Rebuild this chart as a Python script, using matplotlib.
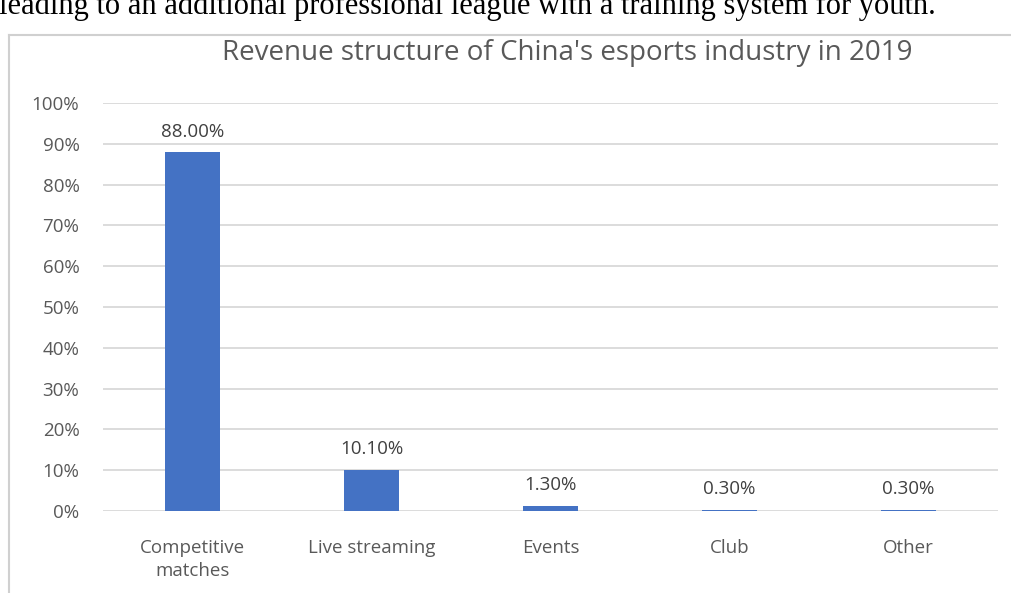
import numpy as np
import matplotlib.pyplot as plt
from matplotlib.lines import Line2D

# revenue share by segment
categories = ["Competitive\nmatches", "Live streaming", "Events", "Club", "Other"]
shares = [88.0, 10.1, 1.3, 0.3, 0.3]
yticks = [0, 10, 20, 30, 40, 50, 60, 70, 80, 90, 100]

plt.rcParams['font.family'] = ['Open Sans', 'DejaVu Sans']

fig = plt.figure(figsize=(10.12, 5.93), dpi=100)
W, H = 1012, 593

# line of body text above the chart, clipped by the top edge
fig.text(-1 / W, 1 - 14 / H, "leading to an additional professional league with a training system for youth.",
         family="Liberation Serif", fontsize=22, color="black", va="baseline", ha="left")

# chart frame (left and top edges)
fig.lines.append(Line2D([9.5 / W, 9.5 / W], [-0.01, 1 - 35 / H], transform=fig.transFigure,
                        color="#d0d0d0", linewidth=1.5))
fig.lines.append(Line2D([9.5 / W, 1.01], [1 - 35 / H, 1 - 35 / H], transform=fig.transFigure,
                        color="#d0d0d0", linewidth=1.5))

ax = fig.add_axes([103 / W, 1 - 511 / H, 895 / W, 408 / H])
x = np.arange(len(categories))
bars = ax.bar(x, shares, width=0.31, color="#4472C4")

for b, v in zip(bars, shares):
    ax.text(b.get_x() + b.get_width() / 2, v + 2.8, f"{v:.2f}%", ha="center", va="bottom",
            fontsize=13.5, color="#404040")

ax.set_xlim(-0.5, len(categories) - 0.5)
ax.set_ylim(0, 100)
ax.set_yticks(yticks)
ax.set_yticklabels([f"{t}%" for t in yticks])
ax.set_xticks(x)
ax.set_xticklabels(categories, linespacing=1.4)
ax.tick_params(axis="both", length=0, labelsize=13.5, labelcolor="#595959")
ax.tick_params(axis="y", pad=17)
ax.tick_params(axis="x", pad=20)
ax.grid(axis="y", color="#d9d9d9", linewidth=1.3)
ax.set_axisbelow(True)
for s in ax.spines.values():
    s.set_visible(False)

fig.text(567 / W, 1 - 53 / H, "Revenue structure of China's esports industry in 2019",
         ha="center", va="center", fontsize=20, color="#595959")

fig.savefig("out.png", dpi=100)
